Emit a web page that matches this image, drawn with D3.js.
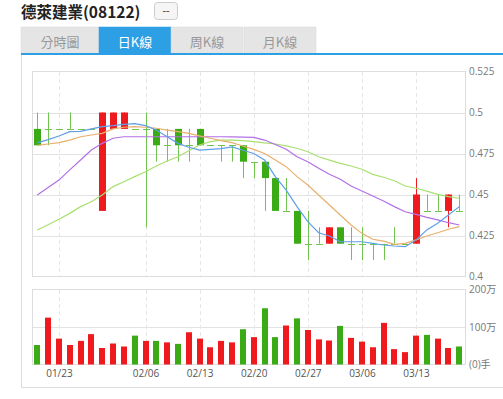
<!DOCTYPE html>
<html>
<head>
<meta charset="utf-8">
<script src="https://cdn.jsdelivr.net/npm/d3@7/dist/d3.min.js"></script>
<style>
  body { margin: 0; background: #fff; }
  svg text { font-family: "Open Sans", "Noto Sans CJK TC", sans-serif; }
</style>
</head>
<body>
<svg id="chart" width="503" height="399"></svg>
<script>
// trading days shown (2017)
const dates = ["01/19","01/20","01/23","01/24","01/25","01/26","01/27","02/01","02/02","02/03",
  "02/06","02/07","02/08","02/09","02/10","02/13","02/14","02/15","02/16","02/17",
  "02/20","02/21","02/22","02/23","02/24","02/27","02/28","03/01","03/02","03/03",
  "03/06","03/07","03/08","03/09","03/10","03/13","03/14","03/15","03/16","03/17"];
const tickDates = ["01/23","02/06","02/13","02/20","02/27","03/06","03/13"];

const open  = [.49,.49,.49,.49,.49,.49,.44,.49,.49,.49,.49,.49,.48,.49,.48,.49,.48,.48,.48,.48,
               .47,.47,.46,.44,.44,.42,.42,.42,.43,.42,.42,.42,.42,.42,.42,.42,.44,.44,.44,.44];
const high  = [.50,.50,.49,.50,.49,.49,.50,.50,.50,.49,.50,.49,.49,.49,.49,.49,.48,.48,.48,.48,
               .47,.47,.46,.46,.44,.44,.43,.43,.43,.43,.43,.42,.42,.43,.42,.46,.45,.45,.45,.45];
const low   = [.48,.48,.49,.49,.49,.49,.44,.49,.49,.49,.43,.47,.47,.47,.47,.48,.48,.47,.47,.46,
               .46,.44,.44,.44,.42,.41,.42,.42,.42,.41,.41,.41,.41,.42,.42,.42,.44,.44,.43,.44];
const close = [.48,.49,.49,.49,.49,.49,.50,.50,.50,.49,.49,.48,.48,.48,.48,.48,.48,.48,.48,.47,
               .47,.46,.44,.44,.42,.42,.42,.43,.42,.42,.42,.42,.42,.42,.42,.45,.44,.44,.45,.44];

// volume in 万, and whether the bar is drawn red (1) or green (0)
const volume = [52,125,69,52,63,81,44,56,48,77,63,63,59,55,86,69,46,63,59,94,
                73,150,73,104,123,92,67,64,103,71,61,46,111,41,33,77,79,69,44,48];
const volUp  = [0,1,1,1,1,1,1,1,1,0,1,0,1,0,1,1,1,1,1,0,
                1,0,0,1,0,1,1,1,0,1,1,1,1,1,1,1,0,1,1,0];

// moving averages
const ma5  = [.4815,.4835,.4857,.4883,.4885,.4900,.4914,.4920,.4928,.4932,.4920,.4893,.4852,.4812,.4788,.4771,.4775,.4780,.4790,.4770,
              .4750,.4710,.4609,.4527,.4426,.4334,.4267,.4247,.4212,.4212,.4212,.4202,.4192,.4186,.4182,.4223,.4284,.4325,.4375,.4426];
const ma10 = [.4800,.4808,.4816,.4832,.4852,.4863,.4873,.4900,.4910,.4914,.4910,.4904,.4893,.4883,.4873,.4857,.4843,.4828,.4816,.4796,
              .4775,.4750,.4710,.4670,.4609,.4558,.4497,.4436,.4375,.4314,.4263,.4227,.4216,.4196,.4202,.4223,.4247,.4267,.4288,.4304];
const ma20 = [.4497,.4543,.4588,.4650,.4710,.4771,.4812,.4843,.4852,.4852,.4852,.4852,.4852,.4852,.4852,.4852,.4852,.4852,.4851,.4850,
              .4848,.4832,.4805,.4776,.4730,.4700,.4660,.4623,.4593,.4552,.4521,.4491,.4460,.4426,.4395,.4379,.4361,.4345,.4328,.4314];
const ma30 = [.4284,.4316,.4349,.4385,.4426,.4456,.4497,.4548,.4578,.4609,.4639,.4674,.4704,.4730,.4767,.4802,.4822,.4832,.4832,.4828,
              .4822,.4815,.4808,.4796,.4782,.4761,.4730,.4710,.4690,.4674,.4654,.4623,.4605,.4584,.4552,.4538,.4521,.4501,.4487,.4477];

const priceTicks = [0.525, 0.5, 0.475, 0.45, 0.425, 0.4];
const volTicks = [200, 100, 0];
const volLabels = ["200万", "100万", "(0)手"];

const red = "#ef1a1e", green = "#3aab14", wickGreen = "#72c450";
const blue = "#2c9fe5";

const svg = d3.select("#chart");

// ---- header ----
svg.append("text").attr("x", 21).attr("y", 18.2)
  .attr("font-size", 15.5).attr("font-weight", "bold").attr("fill", "#222")
  .style("font-family", "'Noto Sans CJK TC', sans-serif")
  .text("德萊建業(08122)");
svg.append("rect").attr("x", 154.5).attr("y", 2.5).attr("width", 23).attr("height", 17).attr("rx", 3)
  .attr("fill", "#f5f5f5").attr("stroke", "#ccc");
svg.append("text").attr("x", 166).attr("y", 14).attr("text-anchor", "middle")
  .attr("font-size", 11).attr("fill", "#333").text("--");

// outer box
svg.append("path").attr("d", "M21.5,27 V387.5 H510").attr("fill", "none").attr("stroke", "#ddd");

const tabs = [
  { name: "分時圖", x: 21, w: 78 },
  { name: "日K線", x: 99, w: 72 },
  { name: "周K線", x: 171, w: 72 },
  { name: "月K線", x: 244, w: 72 }
];
const tabG = svg.append("g").selectAll("g").data(tabs).enter().append("g");
tabG.append("rect")
  .attr("x", d => d.x).attr("y", 27).attr("width", d => d.w).attr("height", 27)
  .attr("fill", (d, i) => i === 1 ? blue : "#e5e5e5")
  .attr("stroke", (d, i) => i === 1 ? blue : "#d8d8d8").attr("stroke-width", 0.5);
tabG.append("text")
  .attr("x", d => d.x + d.w / 2).attr("y", 46.5).attr("text-anchor", "middle")
  .attr("font-size", 13).attr("fill", (d, i) => i === 1 ? "#fff" : "#999")
  .style("font-family", "'Noto Sans CJK TC', sans-serif")
  .text(d => d.name);
svg.append("rect").attr("x", 21).attr("y", 53).attr("width", 490).attr("height", 2).attr("fill", blue);

// ---- scales ----
const plotL = 32, plotR = 465;
const x = d3.scalePoint().domain(dates).range([37.3, 459.3]);
const y = d3.scaleLinear().domain([0.4, 0.525]).range([276.5, 71.5]);
const yv = d3.scaleLinear().domain([0, 200]).range([364.5, 289.5]);

const px = v => Math.round(x(v)) + 0.5;
const py = v => Math.round(y(v)) + 0.5;

// ---- grids ----
const grid = svg.append("g");
grid.selectAll(".hg").data(priceTicks.slice(1, -1)).enter().append("line")
  .attr("x1", plotL).attr("x2", plotR).attr("y1", py).attr("y2", py)
  .attr("stroke", "#e2e2e2");
grid.append("line").attr("x1", plotL).attr("x2", plotR)
  .attr("y1", Math.round(yv(100)) + 0.5).attr("y2", Math.round(yv(100)) + 0.5).attr("stroke", "#e2e2e2");
grid.selectAll(".vg").data(tickDates).enter().append("line")
  .attr("x1", px).attr("x2", px).attr("y1", 72).attr("y2", 276)
  .attr("stroke", "#e6e6e6").attr("stroke-dasharray", "4,3");
grid.selectAll(".vg2").data(tickDates).enter().append("line")
  .attr("x1", px).attr("x2", px).attr("y1", 290).attr("y2", 364)
  .attr("stroke", "#e6e6e6").attr("stroke-dasharray", "4,3");
grid.append("rect").attr("x", plotL + 0.5).attr("y", 71.5).attr("width", plotR - plotL).attr("height", 205)
  .attr("fill", "none").attr("stroke", "#ddd");
grid.append("rect").attr("x", plotL + 0.5).attr("y", 289.5).attr("width", plotR - plotL).attr("height", 75)
  .attr("fill", "none").attr("stroke", "#ddd");

// ---- axes (right side labels, bottom dates) ----
const yAxis = svg.append("g").attr("transform", `translate(${plotR},0)`)
  .call(d3.axisRight(y).tickValues(priceTicks).tickSize(0).tickPadding(4).tickFormat(d3.format("")));
yAxis.select(".domain").remove();
yAxis.selectAll("text").attr("font-size", 10).attr("fill", "#777").attr("font-family", null);

const vAxis = svg.append("g").attr("transform", `translate(${plotR},0)`)
  .call(d3.axisRight(yv).tickValues(volTicks).tickSize(0).tickPadding(4).tickFormat((d, i) => volLabels[i]));
vAxis.select(".domain").remove();
vAxis.selectAll("text").attr("font-size", 10).attr("fill", "#777").attr("font-family", null)
  .style("font-family", "'Open Sans', 'Noto Sans CJK SC', sans-serif");

const xAxis = svg.append("g").attr("transform", "translate(0,366)")
  .call(d3.axisBottom(x).tickValues(tickDates).tickSize(0).tickPadding(4));
xAxis.select(".domain").remove();
xAxis.selectAll("text").attr("font-size", 10).attr("fill", "#555").attr("font-family", null);

// ---- candles ----
const idx = d3.range(dates.length);
const colorOf = i => close[i] > open[i] ? red : green;
const cg = svg.append("g");
cg.selectAll(".wick").data(idx).enter().append("line")
  .attr("x1", i => px(dates[i])).attr("x2", i => px(dates[i]))
  .attr("y1", i => y(high[i])).attr("y2", i => y(low[i]))
  .attr("stroke", i => close[i] > open[i] ? red : wickGreen).attr("stroke-width", 1);
cg.selectAll(".body").data(idx.filter(i => close[i] !== open[i])).enter().append("rect")
  .attr("x", i => Math.round(x(dates[i])) - 3)
  .attr("width", 7)
  .attr("y", i => y(Math.max(open[i], close[i])))
  .attr("height", i => Math.abs(y(open[i]) - y(close[i])))
  .attr("fill", colorOf);
cg.selectAll(".doji").data(idx.filter(i => close[i] === open[i])).enter().append("line")
  .attr("x1", i => Math.round(x(dates[i])) - 3).attr("x2", i => Math.round(x(dates[i])) + 4)
  .attr("y1", i => py(open[i])).attr("y2", i => py(open[i]))
  .attr("stroke", wickGreen);

// ---- moving averages ----
const lineGen = d3.line().x((d, i) => x(dates[i])).y(d => y(d));
[[ma30, "#a9e070"], [ma20, "#b270e6"], [ma10, "#e8b06c"], [ma5, "#5e9fe8"]].forEach(([s, c]) => {
  svg.append("path").datum(s).attr("d", lineGen)
    .attr("fill", "none").attr("stroke", c).attr("stroke-width", 1.2);
});

// ---- volume ----
svg.append("g").selectAll("rect").data(idx).enter().append("rect")
  .attr("x", i => Math.round(x(dates[i])) - 3)
  .attr("width", 6)
  .attr("y", i => yv(volume[i]))
  .attr("height", i => yv(0) - yv(volume[i]))
  .attr("fill", i => volUp[i] ? red : green);
</script>
</body>
</html>
